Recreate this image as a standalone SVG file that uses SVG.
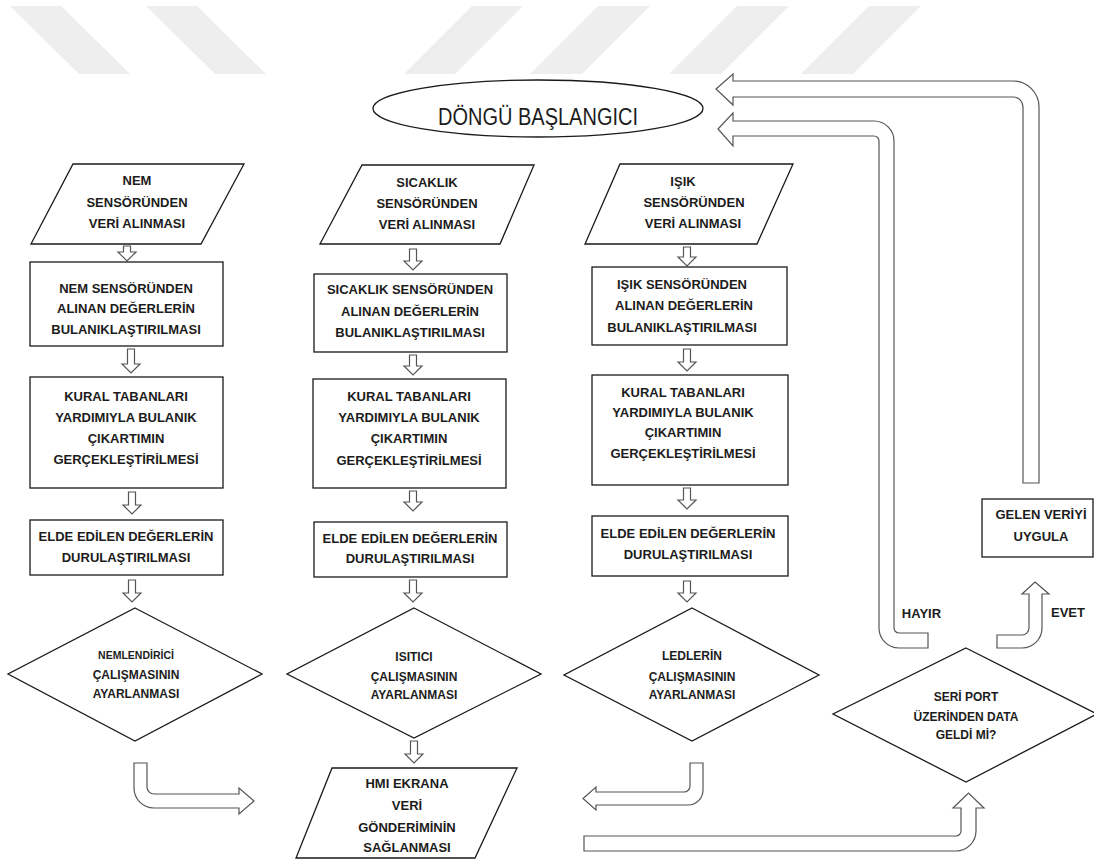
<svg xmlns="http://www.w3.org/2000/svg" xmlns:xlink="http://www.w3.org/1999/xlink" width="1094" height="861" viewBox="0 0 1094 861">
<style>
.wm{fill:#eeeeee}
.sh{fill:#fff;stroke:#1a1a1a;stroke-width:1.3}
.blk{fill:#fff;stroke:#555;stroke-width:1.2;stroke-linejoin:miter}
.t{font-family:"Liberation Sans",Arial,sans-serif;font-size:13px;font-weight:bold;fill:#1c1c1c;text-anchor:middle}
.ds{font-size:12px}
.dn{font-size:10.5px}
.big{font-size:23px;font-weight:normal}
</style>
<rect width="1094" height="861" fill="#fff"/>
<g id="watermark">
<polygon class="wm" points="10,6 61,6 130,74 79,74"/>
<polygon class="wm" points="146,6 197,6 266,74 215,74"/>
<polygon class="wm" points="472,6 523,6 455,74 404,74"/>
<polygon class="wm" points="598,6 650,6 582,74 530,74"/>
<polygon class="wm" points="737,6 789,6 721,74 669,74"/>
<polygon class="wm" points="869,6 921,6 853,74 801,74"/>
</g>
<g id="connectors">
<path class="blk" d="M123.5,246 H130.5 V252 H136 L127,261 L118,252 H123.5 Z"/>
<path class="blk" d="M127.5,349 H134.5 V364 H140 L131,373 L122,364 H127.5 Z"/>
<path class="blk" d="M128.5,492 H135.5 V505 H141 L132,514 L123,505 H128.5 Z"/>
<path class="blk" d="M128.5,580 H135.5 V593 H141 L132,602 L123,593 H128.5 Z"/>
<path class="blk" d="M409.5,249 H416.5 V261 H422 L413,270 L404,261 H409.5 Z"/>
<path class="blk" d="M409.5,355 H416.5 V366 H422 L413,375 L404,366 H409.5 Z"/>
<path class="blk" d="M409.5,491 H416.5 V502 H422 L413,511 L404,502 H409.5 Z"/>
<path class="blk" d="M409.5,580 H416.5 V593 H422 L413,602 L404,593 H409.5 Z"/>
<path class="blk" d="M410.5,741 H417.5 V754 H423 L414,763 L405,754 H410.5 Z"/>
<path class="blk" d="M683.5,247 H690.5 V257 H696 L687,266 L678,257 H683.5 Z"/>
<path class="blk" d="M683.5,349 H690.5 V362 H696 L687,371 L678,362 H683.5 Z"/>
<path class="blk" d="M683.5,488 H690.5 V500 H696 L687,509 L678,500 H683.5 Z"/>
<path class="blk" d="M683.5,581 H690.5 V593 H696 L687,602 L678,593 H683.5 Z"/>
<path class="blk" d="M134,763 H147 V787 A7,7 0 0 0 154,794 H239 V788 L254,801 L239,814 V808 H154 A20,20 0 0 1 134,788 Z"/>
<path class="blk" d="M690,763 H703 V790 A15,15 0 0 1 688,805 H596 V810 L583,798.5 L596,787 V792 H684 A6,6 0 0 0 690,786 Z"/>
<path class="blk" d="M584,836 H956 A5,5 0 0 0 961,831 V808 H953 L968.5,793 L984,808 H976 V831 A20,20 0 0 1 956,851 H584 Z"/>
<path class="blk" d="M718,129 L733,113 V121 H874 A20,20 0 0 1 894,141 V628 A5,5 0 0 0 899,633 H928 V648 H899 A20,20 0 0 1 879,628 V141 A5,5 0 0 0 874,136 H733 V146 Z"/>
<path class="blk" d="M1035,582 L1049,594 H1042 V628 A20,20 0 0 1 1022,648 H997 V635 H1022 A7,7 0 0 0 1029,628 V594 H1022 Z"/>
<path class="blk" d="M716,89 L733,74 V81 H1013 A26,26 0 0 1 1039,107 V483 H1023 V107 A10,10 0 0 0 1013,97 H733 V105 Z"/>
</g>
<g id="start">
<ellipse class="sh" cx="538" cy="108.5" rx="165" ry="28.5"/>
<text class="t big" x="538" y="125" textLength="200" lengthAdjust="spacingAndGlyphs">DÖNGÜ BAŞLANGICI</text>
</g>
<g id="nem_in">
<polygon class="sh" points="73,164 244,164 201,244 31,244"/>
<text class="t"><tspan x="137" y="185">NEM</tspan><tspan x="137" y="207">SENSÖRÜNDEN</tspan><tspan x="137" y="228">VERİ ALINMASI</tspan></text>
</g>
<g id="nem_fuzz">
<rect class="sh" x="30" y="262" width="193" height="84"/>
<text class="t"><tspan x="126" y="293">NEM SENSÖRÜNDEN</tspan><tspan x="126" y="313">ALINAN DEĞERLERİN</tspan><tspan x="126" y="334">BULANIKLAŞTIRILMASI</tspan></text>
</g>
<g id="nem_rule">
<rect class="sh" x="30" y="377" width="193" height="111"/>
<text class="t"><tspan x="126" y="401">KURAL TABANLARI</tspan><tspan x="126" y="422">YARDIMIYLA BULANIK</tspan><tspan x="126" y="443">ÇIKARTIMIN</tspan><tspan x="126" y="464">GERÇEKLEŞTİRİLMESİ</tspan></text>
</g>
<g id="nem_defuzz">
<rect class="sh" x="30" y="520" width="193" height="55"/>
<text class="t"><tspan x="126" y="541">ELDE EDİLEN DEĞERLERİN</tspan><tspan x="126" y="562">DURULAŞTIRILMASI</tspan></text>
</g>
<g id="nem_dec">
<polygon class="sh" points="135,608 262,674 135,741 8,674"/>
<text class="t ds"><tspan class="dn" x="136" y="659">NEMLENDİRİCİ</tspan><tspan x="136" y="679">ÇALIŞMASININ</tspan><tspan x="136" y="698">AYARLANMASI</tspan></text>
</g>
<g id="sic_in">
<polygon class="sh" points="362,165 534,165 500,244 320,244"/>
<text class="t"><tspan x="427" y="187">SICAKLIK</tspan><tspan x="427" y="208">SENSÖRÜNDEN</tspan><tspan x="427" y="229">VERİ ALINMASI</tspan></text>
</g>
<g id="sic_fuzz">
<rect class="sh" x="314" y="274" width="193" height="78"/>
<text class="t"><tspan x="410" y="294">SICAKLIK SENSÖRÜNDEN</tspan><tspan x="410" y="316">ALINAN DEĞERLERİN</tspan><tspan x="410" y="337">BULANIKLAŞTIRILMASI</tspan></text>
</g>
<g id="sic_rule">
<rect class="sh" x="313" y="379" width="193" height="109"/>
<text class="t"><tspan x="409" y="401">KURAL TABANLARI</tspan><tspan x="409" y="422">YARDIMIYLA BULANIK</tspan><tspan x="409" y="443">ÇIKARTIMIN</tspan><tspan x="409" y="465">GERÇEKLEŞTİRİLMESİ</tspan></text>
</g>
<g id="sic_defuzz">
<rect class="sh" x="314" y="522" width="193" height="55"/>
<text class="t"><tspan x="410" y="543">ELDE EDİLEN DEĞERLERİN</tspan><tspan x="410" y="563">DURULAŞTIRILMASI</tspan></text>
</g>
<g id="sic_dec">
<polygon class="sh" points="414,608 541,674 414,738 287,674"/>
<text class="t ds"><tspan x="414" y="661">ISITICI</tspan><tspan x="414" y="681">ÇALIŞMASININ</tspan><tspan x="414" y="699">AYARLANMASI</tspan></text>
</g>
<g id="isik_in">
<polygon class="sh" points="620,164 793,164 757,244 585,244"/>
<text class="t"><tspan x="683" y="186">IŞIK</tspan><tspan x="694" y="207">SENSÖRÜNDEN</tspan><tspan x="693" y="228">VERİ ALINMASI</tspan></text>
</g>
<g id="isik_fuzz">
<rect class="sh" x="592" y="267" width="195" height="78"/>
<text class="t"><tspan x="682" y="289">IŞIK SENSÖRÜNDEN</tspan><tspan x="684" y="310">ALINAN DEĞERLERİN</tspan><tspan x="682" y="332">BULANIKLAŞTIRILMASI</tspan></text>
</g>
<g id="isik_rule">
<rect class="sh" x="592" y="375" width="196" height="110"/>
<text class="t"><tspan x="683" y="397">KURAL TABANLARI</tspan><tspan x="683" y="417">YARDIMIYLA BULANIK</tspan><tspan x="683" y="437">ÇIKARTIMIN</tspan><tspan x="683" y="458">GERÇEKLEŞTİRİLMESİ</tspan></text>
</g>
<g id="isik_defuzz">
<rect class="sh" x="592" y="516" width="196" height="60"/>
<text class="t"><tspan x="688" y="538">ELDE EDİLEN DEĞERLERİN</tspan><tspan x="688" y="559">DURULAŞTIRILMASI</tspan></text>
</g>
<g id="isik_dec">
<polygon class="sh" points="692,608 819,675 692,741 564,675"/>
<text class="t ds"><tspan x="692" y="660">LEDLERİN</tspan><tspan x="692" y="681">ÇALIŞMASININ</tspan><tspan x="692" y="699">AYARLANMASI</tspan></text>
</g>
<g id="hmi">
<polygon class="sh" points="332,768 517,768 475,858 296,858"/>
<text class="t"><tspan x="407" y="788">HMI EKRANA</tspan><tspan x="407" y="810">VERİ</tspan><tspan x="407" y="832">GÖNDERİMİNİN</tspan><tspan x="407" y="852">SAĞLANMASI</tspan></text>
</g>
<g id="seri">
<polygon class="sh" points="966,648 1097,714 966,782 833,714"/>
<text class="t ds"><tspan x="966" y="701">SERİ PORT</tspan><tspan x="966" y="721">ÜZERİNDEN DATA</tspan><tspan x="966" y="739">GELDİ Mİ?</tspan></text>
</g>
<g id="gelen">
<rect class="sh" x="982" y="499" width="111" height="58"/>
<text class="t"><tspan x="1041" y="519">GELEN VERİYİ</tspan><tspan x="1041" y="541">UYGULA</tspan></text>
</g>
<g id="labels">
<text class="t" x="921.5" y="618">HAYIR</text>
<text class="t" x="1068" y="617">EVET</text>
</g>
</svg>
